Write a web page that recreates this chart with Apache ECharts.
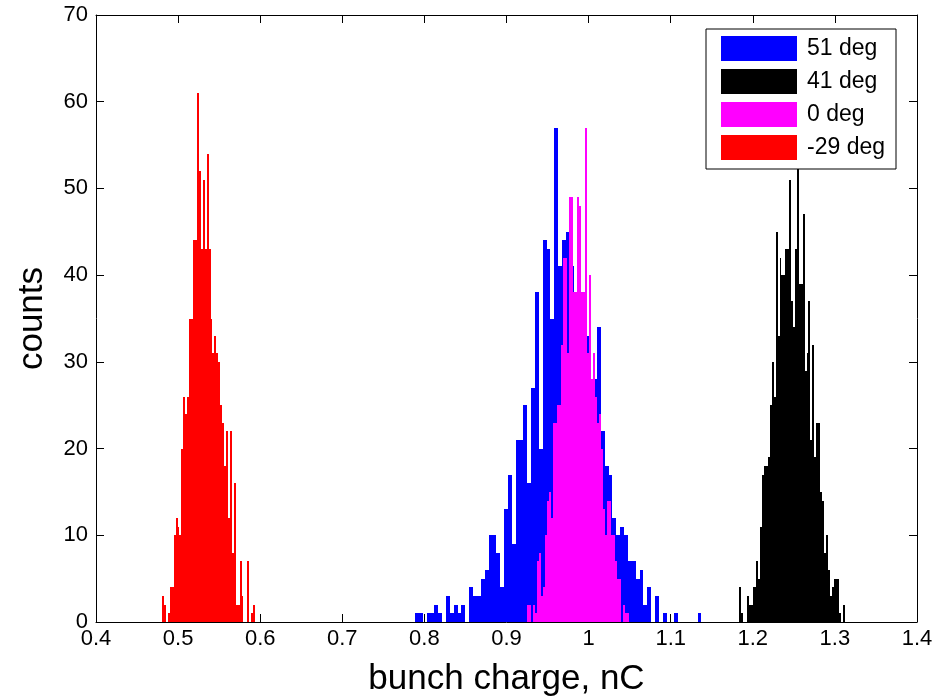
<!DOCTYPE html>
<html>
<head>
<meta charset="utf-8">
<script src="https://cdn.jsdelivr.net/npm/echarts@6/dist/echarts.min.js"></script>
<style>html,body{margin:0;padding:0;background:#fff}#c{width:951px;height:697px}</style>
</head>
<body>
<div id="c"></div>
<script>
// ---- data ----
const seriesNames = ['51 deg', '41 deg', '0 deg', '-29 deg'];
const seriesColors = ['#0000ff', '#000000', '#ff00ff', '#ff0000'];

// 51 deg (blue): first bin edge, bin width, counts
const blueStart = 0.7886;
const blueBin = 0.004714;
const blueCounts = [1,1,0,1,1,2,1,0,3,1, 2,1,2,0,4,3,3,5,6,10, 10,8,4,13,17,9,21,21,25,16,
  27,38,20,44,43,35,57,41,44,45, 41,38,40,36,33,27,28,34,22,18, 17,12,10,11,10,7,7,5,6,2,
  4,0,3,0,1,0,0,1,0,0, 0,0,0,1];

// 41 deg (black)
const blackStart = 1.1832;
const blackBin = 0.00235;
const blackCounts = [4,1,0,0,3,2,2,4,4,7, 5,11,17,18,18,19,25,30,26,45, 33,42,40,40,43,43,51,37,34,43,
  55,39,39,47,29,31,37,21,32,19, 23,23,15,14,8,10,6,3,4,5, 5,5,1,0,2];

// 0 deg (magenta)
const magentaStart = 0.925;
const magentaBin = 0.002436;
const magentaCounts = [2,2,0,2,1,7,8,3,4,10, 14,15,12,23,23,25,25,32,42,42, 31,49,49,38,38,49,48,38,38,57,
  31,40,28,31,26,23,24,20,13,10, 14,14,10,10,7,5,5,0,2,1, 1];

// -29 deg (red)
const redStart = 0.4804;
const redBin = 0.002363;
const redCounts = [3,2,0,1,4,4,10,12,11,10, 20,26,24,26,35,35,44,44,61,52, 43,51,43,54,43,35,31,33,31,30,
  25,23,18,22,12,22,8,16,2,2, 7,3,0,0,7,0,1,2];

// axis ranges
const xMin = 0.4, xMax = 1.4, xStep = 0.1;
const yMin = 0, yMax = 70, yStep = 10;
const xTitle = 'bunch charge, nC';
const yTitle = 'counts';

// ---- chart ----
function bins(start, w, counts) {
  return counts.map((c, i) => [start + i * w, start + (i + 1) * w, c]);
}
function renderBar(params, api) {
  const a = api.coord([api.value(0), api.value(2)]);
  const b = api.coord([api.value(1), 0]);
  const x0 = Math.round(a[0]), x1 = Math.round(b[0]);
  const y0 = Math.round(a[1]), y1 = Math.round(b[1]);
  if (y1 - y0 <= 0 || x1 - x0 <= 0) return null;
  return { type: 'rect', shape: { x: x0, y: y0, width: x1 - x0, height: y1 - y0 },
           style: { fill: api.visual('color') } };
}
const FONT = '"Liberation Sans", Arial, sans-serif';
const histData = [
  bins(blueStart, blueBin, blueCounts),
  bins(blackStart, blackBin, blackCounts),
  bins(magentaStart, magentaBin, magentaCounts),
  bins(redStart, redBin, redCounts)
];

const axisCommon = {
  axisLine: { show: true, onZero: false, lineStyle: { color: '#000', width: 1 } },
  axisTick: { show: true, inside: true, length: 8, lineStyle: { color: '#000', width: 1 } },
  splitLine: { show: false }
};

const chart = echarts.init(document.getElementById('c'), null, { renderer: 'canvas' });
chart.setOption({
  animation: false,
  backgroundColor: '#fff',
  textStyle: { fontFamily: FONT },
  grid: { left: 96, right: 34, top: 15, bottom: 75, show: false, containLabel: false, outerBoundsMode: 'none' },
  legend: {
    show: true, orient: 'vertical', left: 706, top: 29,
    data: seriesNames, icon: 'rect', itemWidth: 76, itemHeight: 25, itemGap: 8,
    padding: [7, 11, 9, 15], borderColor: '#000', borderWidth: 1, backgroundColor: '#fff',
    textStyle: { fontSize: 23, color: '#000', fontFamily: FONT, padding: [0, 0, 0, 5] },
    selectedMode: false, z: 10
  },
  xAxis: [
    Object.assign({
      type: 'value', min: xMin, max: xMax, interval: xStep, position: 'bottom',
      axisLabel: { fontSize: 22, color: '#000', margin: 6, fontFamily: FONT },
      name: xTitle, nameLocation: 'middle', nameGap: 40,
      nameTextStyle: { fontSize: 35, color: '#000', fontFamily: FONT }
    }, axisCommon),
    Object.assign({
      type: 'value', min: xMin, max: xMax, interval: xStep, position: 'top',
      axisLabel: { show: false }
    }, axisCommon)
  ],
  yAxis: [
    Object.assign({
      type: 'value', min: yMin, max: yMax, interval: yStep, position: 'left',
      axisLabel: { fontSize: 22, color: '#000', margin: 8, fontFamily: FONT },
      name: yTitle, nameLocation: 'middle', nameGap: 46, nameRotate: 90,
      nameTextStyle: { fontSize: 35, color: '#000', fontFamily: FONT }
    }, axisCommon),
    Object.assign({
      type: 'value', min: yMin, max: yMax, interval: yStep, position: 'right',
      axisLabel: { show: false }
    }, axisCommon)
  ],
  series: seriesNames.map((n, i) => ({
    name: n, type: 'custom', xAxisIndex: 0, yAxisIndex: 0,
    renderItem: renderBar, itemStyle: { color: seriesColors[i] },
    encode: { x: [0, 1], y: 2 }, data: histData[i], clip: true, z: 2 + i
  }))
});
</script>
</body>
</html>
